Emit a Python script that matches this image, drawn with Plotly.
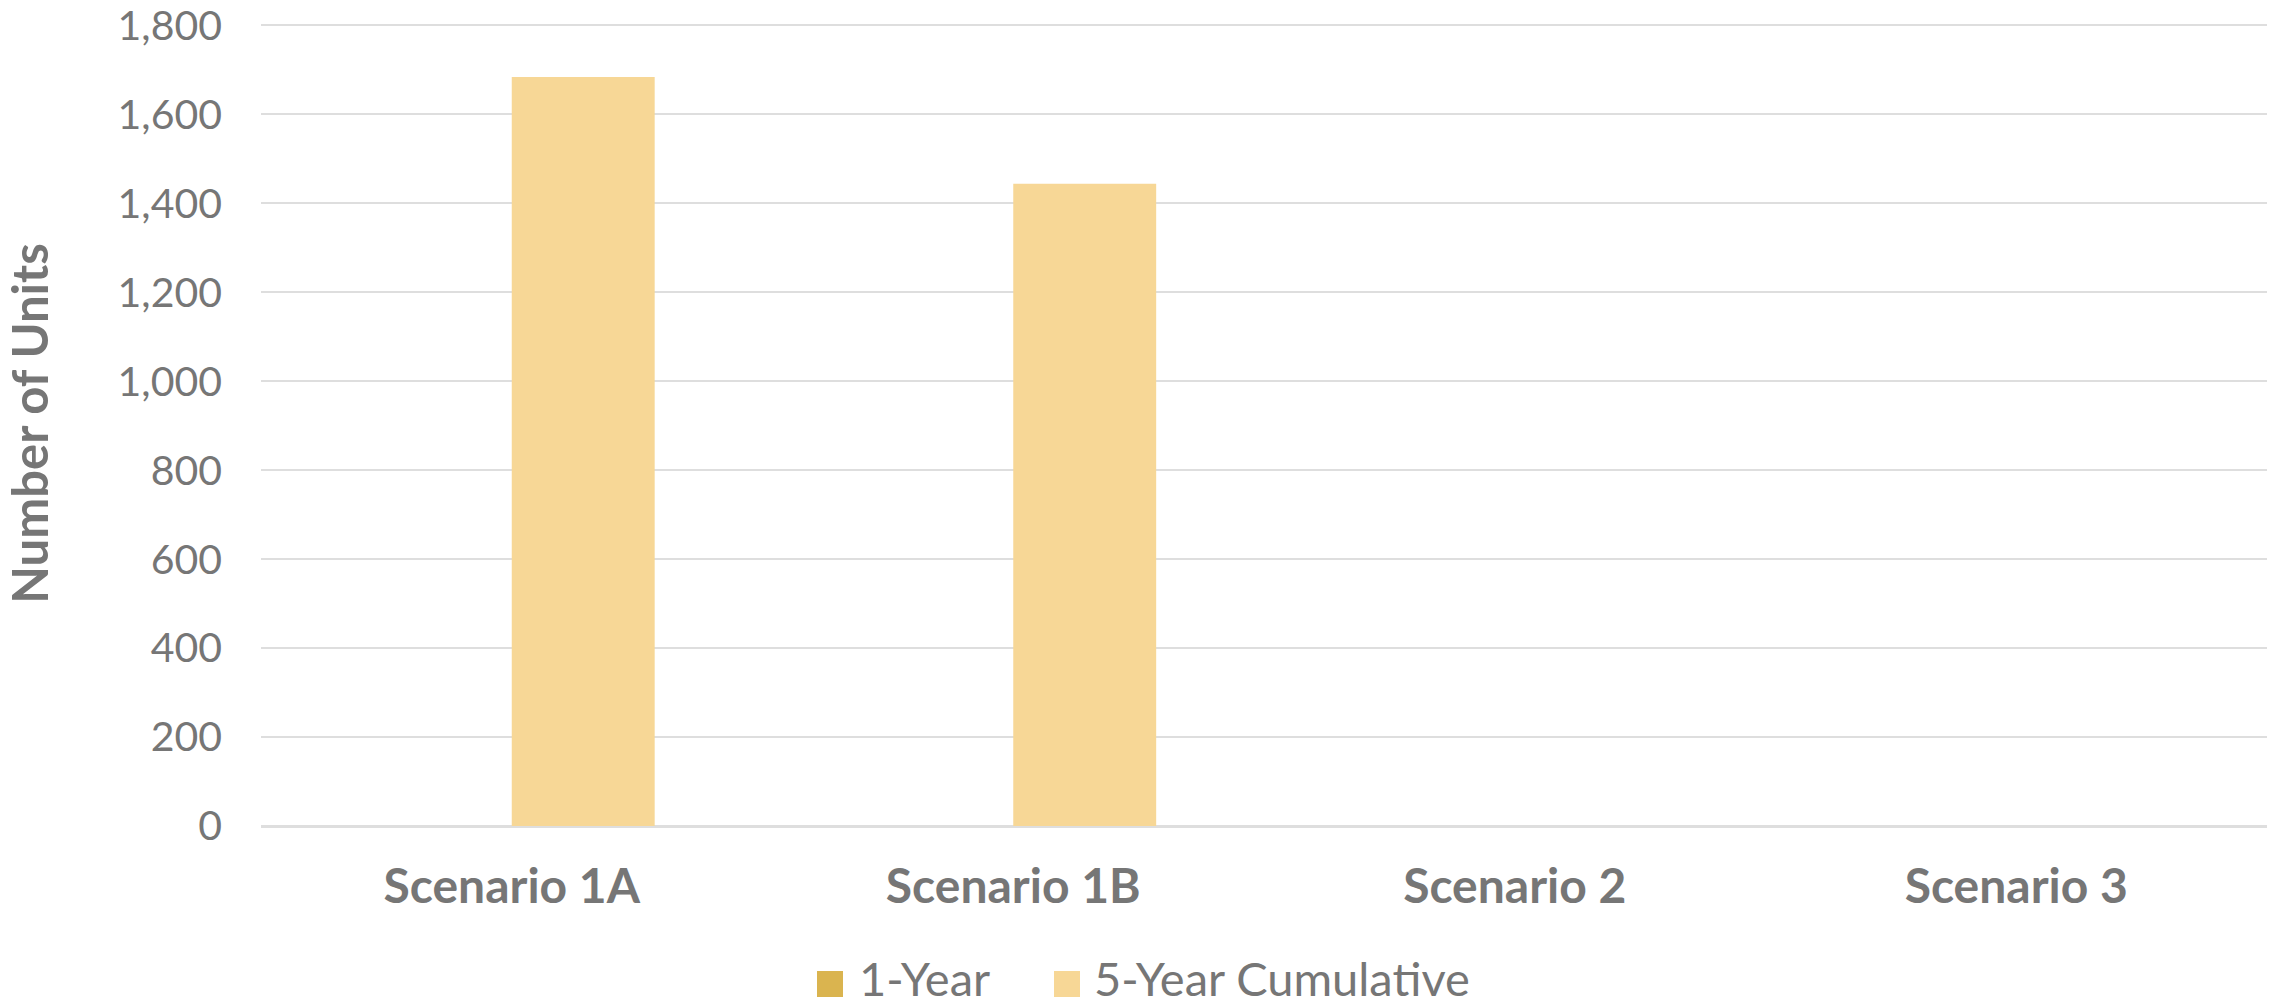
import plotly.graph_objects as go

# Scenario results: new units after one year and cumulative over five years
categories = ["Scenario 1A", "Scenario 1B", "Scenario 2", "Scenario 3"]
one_year = [0, 0, 0, 0]
five_year_cumulative = [1684, 1444, 0, 0]
y_ticks = [0, 200, 400, 600, 800, 1000, 1200, 1400, 1600, 1800]

series_names = ["1-Year", "5-Year Cumulative"]
series_colors = ["#DAB44F", "#F7D796"]

W, H = 2277, 1005
L, R, T, B = 261, 10, 21, 179
TEXT = "#767676"
GRID = "#DEDEDE"
FONT = "Lato"
Y_MAX = 1810  # a little headroom so the 1,800 gridline and label are drawn

fig = go.Figure()
fig.add_trace(go.Bar(x=categories, y=one_year, name=series_names[0],
                     marker=dict(color=series_colors[0], line=dict(width=0)),
                     showlegend=False))
fig.add_trace(go.Bar(x=categories, y=five_year_cumulative, name=series_names[1],
                     marker=dict(color=series_colors[1], line=dict(width=0)),
                     showlegend=False))

# Legend drawn as swatches plus labels below the plot
plot_w = W - L - R
plot_h = H - T - B


def px_x(px):
    return (px - L) / plot_w


def px_y(py):
    return (H - B - py) / plot_h


swatch_left = [817, 1054]
label_left = [857, 1092]
for name, color, sx, lx in zip(series_names, series_colors, swatch_left, label_left):
    fig.add_shape(type="rect", xref="paper", yref="paper",
                  x0=px_x(sx), x1=px_x(sx + 26), y0=px_y(997), y1=px_y(971),
                  fillcolor=color, line=dict(width=0), layer="above")
    fig.add_annotation(text=name, xref="paper", yref="paper",
                       x=px_x(lx), y=px_y(978), xanchor="left", yanchor="middle",
                       showarrow=False, font=dict(family=FONT, size=47, color=TEXT))

fig.update_layout(
    width=W, height=H,
    margin=dict(l=L, r=R, t=T, b=B, pad=0, autoexpand=False),
    paper_bgcolor="white", plot_bgcolor="white",
    barmode="group", bargap=0.43, bargroupgap=0,
    font=dict(family=FONT, color=TEXT),
    showlegend=False,
)
fig.update_xaxes(
    automargin=False,
    showgrid=False, showline=False, ticks="",
    tickfont=dict(family=FONT, size=48, color=TEXT, weight="bold"),
    ticklabelstandoff=28,
)
fig.update_yaxes(
    automargin=False,
    range=[0, Y_MAX], tickmode="array", tickvals=y_ticks, tickformat=",",
    showgrid=True, gridcolor=GRID, gridwidth=2,
    zeroline=True, zerolinecolor=GRID, zerolinewidth=2.5,
    showline=False, ticks="",
    tickfont=dict(family=FONT, size=41, color=TEXT),
    ticklabelstandoff=38, ticklabeloverflow="allow",
    title=dict(text="Number of Units", standoff=55,
               font=dict(family=FONT, size=49, color=TEXT, weight="bold")),
)

fig.write_html("out.html")
